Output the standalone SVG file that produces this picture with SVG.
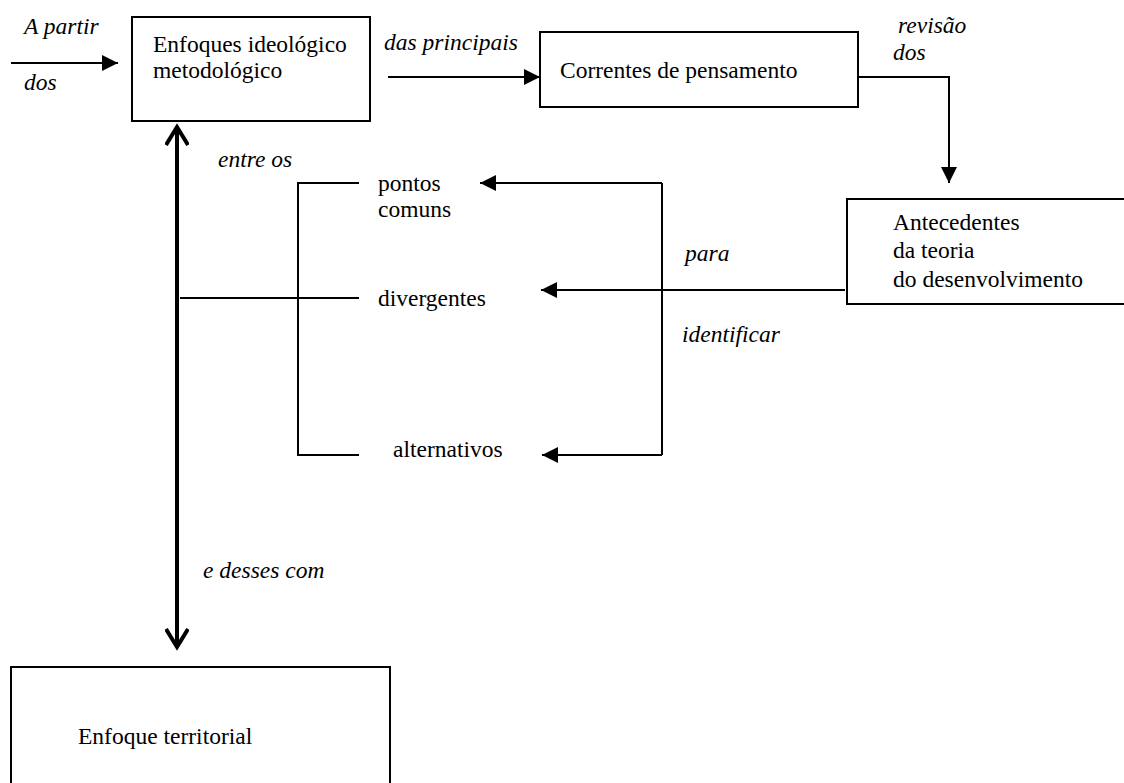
<svg xmlns="http://www.w3.org/2000/svg" width="1124" height="783" viewBox="0 0 1124 783" font-family="Liberation Serif, DejaVu Serif, serif">
<style>
.box{fill:#fff;stroke:#000;stroke-width:2}
text{font-family:"Liberation Serif","DejaVu Serif",serif;font-size:23.5px;fill:#000}
.i{font-style:italic}
.ln{fill:none;stroke:#000;stroke-width:2}
.thick{fill:none;stroke:#000;stroke-width:4}
</style>
<defs>
<marker id="ah" viewBox="0 0 16 16" refX="16" refY="8" markerWidth="16" markerHeight="16" markerUnits="userSpaceOnUse" orient="auto">
<path d="M0,0 L16,8 L0,16 Z" fill="#000"/>
</marker>
<marker id="vh" viewBox="0 0 24 24" refX="20" refY="12" markerWidth="24" markerHeight="24" markerUnits="userSpaceOnUse" orient="auto-start-reverse">
<path d="M2,1 L20,12 L2,23" fill="none" stroke="#000" stroke-width="4"/>
</marker>
</defs>
<g id="connectors">
<line class="ln" x1="11" y1="63" x2="118" y2="63" marker-end="url(#ah)"/>
<line class="ln" x1="388" y1="77" x2="540" y2="77" marker-end="url(#ah)"/>
<polyline class="ln" points="858,77 949,77 949,183" marker-end="url(#ah)"/>
<line class="ln" x1="845" y1="290" x2="541" y2="290" marker-end="url(#ah)"/>
<polyline class="ln" points="662,183 662,455"/>
<line class="ln" x1="662" y1="183" x2="480" y2="183" marker-end="url(#ah)"/>
<line class="ln" x1="662" y1="455" x2="542" y2="455" marker-end="url(#ah)"/>
<polyline class="ln" points="359,183 298,183 298,455 359,455"/>
<line class="ln" x1="180" y1="298" x2="359" y2="298"/>
<line class="thick" x1="177" y1="127" x2="177" y2="647" marker-start="url(#vh)" marker-end="url(#vh)"/>
</g>
<g id="labels" font-family="Liberation Serif, serif">
<text class="i" x="24" y="34">A partir</text>
<text class="i" x="24" y="90">dos</text>
<text class="i" x="384" y="50">das principais</text>
<text class="i" x="898" y="33">revisão</text>
<text class="i" x="893" y="60">dos</text>
<text class="i" x="685" y="261">para</text>
<text class="i" x="682" y="342">identificar</text>
<text class="i" x="218" y="167">entre os</text>
<text class="i" x="203" y="578">e desses com</text>
</g>
<g id="n_enfoques">
<rect class="box" x="132" y="17" width="238" height="104"/>
<text x="153" y="52">Enfoques ideológico</text>
<text x="153" y="78">metodológico</text>
</g>
<g id="n_correntes">
<rect class="box" x="540" y="32" width="318" height="75"/>
<text x="560" y="78">Correntes de pensamento</text>
</g>
<g id="n_antecedentes">
<rect class="box" x="847" y="199" width="290" height="105"/>
<text x="893" y="230">Antecedentes</text>
<text x="893" y="258">da teoria</text>
<text x="893" y="287">do desenvolvimento</text>
</g>
<g id="n_pontos"><text x="378" y="191">pontos</text><text x="378" y="217">comuns</text></g>
<g id="n_divergentes"><text x="378" y="306">divergentes</text></g>
<g id="n_alternativos"><text x="393" y="457">alternativos</text></g>
<g id="n_territorial">
<rect class="box" x="11" y="667" width="379" height="130"/>
<text x="78" y="744">Enfoque territorial</text>
</g>
</svg>
